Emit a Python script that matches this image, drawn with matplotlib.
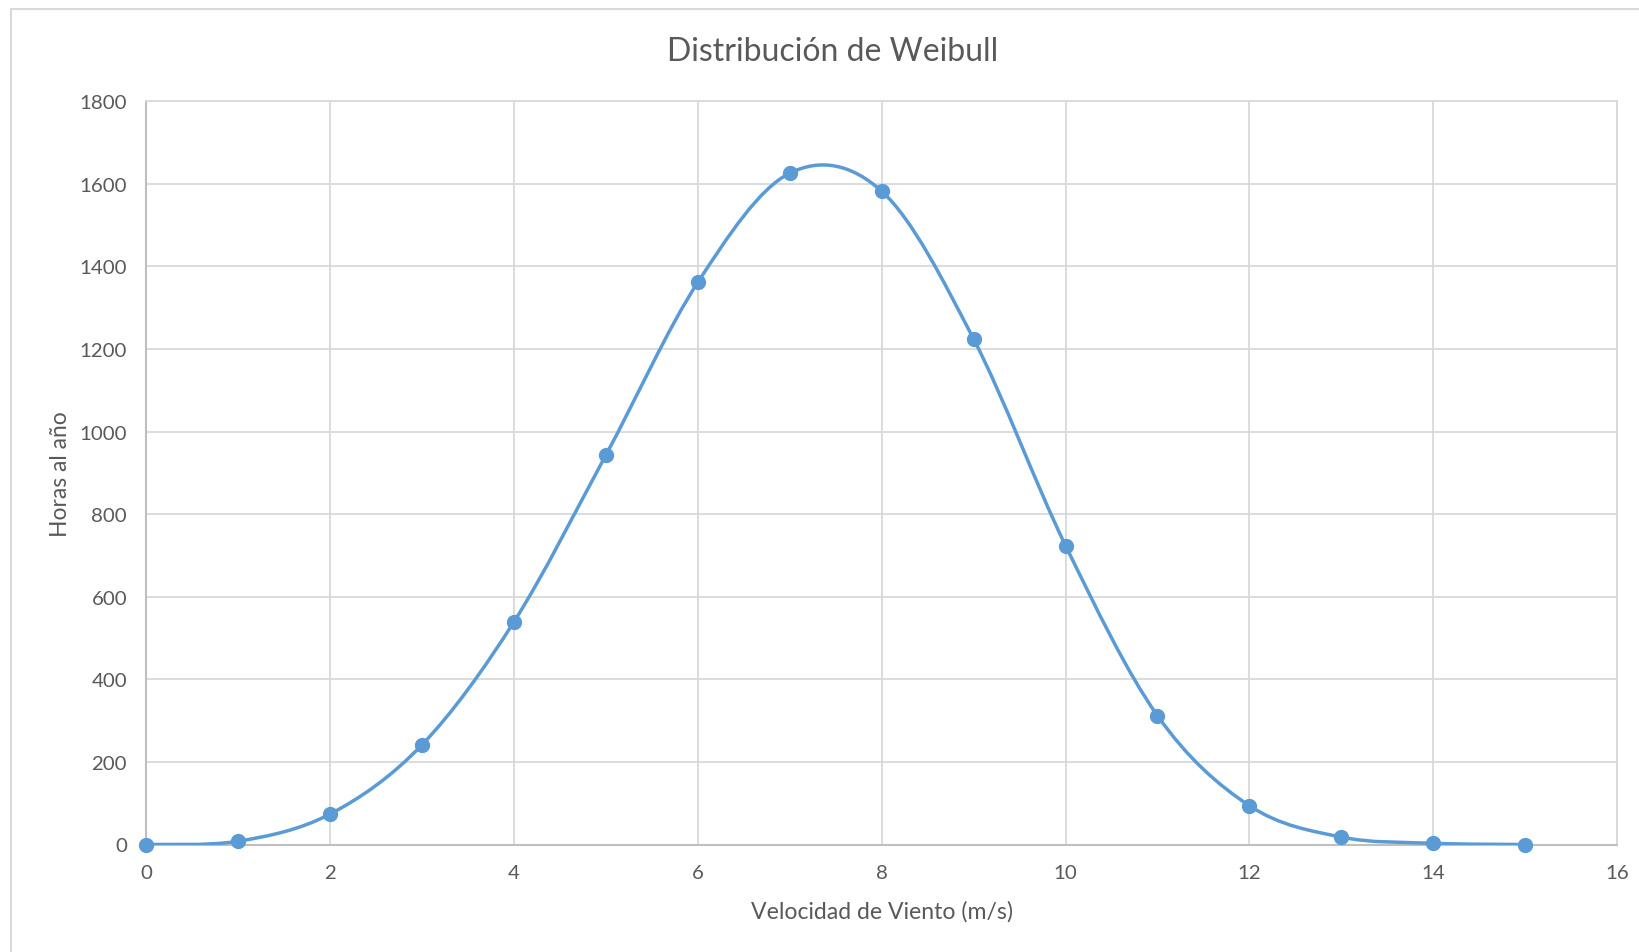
import matplotlib.pyplot as plt
from matplotlib.path import Path
from matplotlib.patches import PathPatch, Rectangle
import numpy as np

plt.rcParams['font.family'] = ['Lato', 'DejaVu Sans']

# data
velocidad = [0, 1, 2, 3, 4, 5, 6, 7, 8, 9, 10, 11, 12, 13, 14, 15]
horas = [0, 8, 74, 242, 540, 944, 1362, 1626, 1582, 1224, 724, 312, 94, 18, 3, 0]
x_ticks = [0, 2, 4, 6, 8, 10, 12, 14, 16]
y_ticks = [0, 200, 400, 600, 800, 1000, 1200, 1400, 1600, 1800]

azul = '#5B9BD5'
texto = '#595959'
rejilla = '#D9D9D9'

fig = plt.figure(figsize=(16.4, 9.53), dpi=100)
# chart area border (left and top edges visible in the crop)
fig.patches.append(Rectangle((11 / 1640, -0.1), 1.2, 1 - 10 / 953 + 0.1,
                             transform=fig.transFigure, fill=False,
                             edgecolor=rejilla, linewidth=1.5))

ax = fig.add_axes([146.5 / 1640, 1 - 845.5 / 953, (1617 - 146.5) / 1640, (845.5 - 102.3) / 953])

# smoothed line like Excel: cubic Bezier segments through the points
pts = np.column_stack([velocidad, horas]).astype(float)
ext = np.vstack([pts[0], pts, pts[-1]])
verts = [tuple(pts[0])]
codes = [Path.MOVETO]
for i in range(len(pts) - 1):
    p0, p1, p2, p3 = ext[i], ext[i + 1], ext[i + 2], ext[i + 3]
    c1 = p1 + (p2 - p0) / 6.0
    c2 = p2 - (p3 - p1) / 6.0
    verts += [tuple(c1), tuple(c2), tuple(p2)]
    codes += [Path.CURVE4, Path.CURVE4, Path.CURVE4]
ax.add_patch(PathPatch(Path(verts, codes), facecolor='none', edgecolor=azul,
                       linewidth=2.5, capstyle='round', zorder=3))
ax.plot(velocidad, horas, linestyle='none', marker='o', markersize=10,
        color=azul, zorder=4, clip_on=False)

ax.set_xlim(0, 16)
ax.set_ylim(0, 1800)
ax.set_xticks(x_ticks)
ax.set_yticks(y_ticks)
ax.grid(True, color=rejilla, linewidth=1.3)
ax.set_axisbelow(True)
ax.tick_params(length=0, labelsize=14.7, colors=texto, pad=14)
for s in ['left', 'bottom']:
    ax.spines[s].set_color('#BFBFBF')
    ax.spines[s].set_linewidth(1.5)
for s in ['top', 'right']:
    ax.spines[s].set_color(rejilla)
    ax.spines[s].set_linewidth(1.3)

ax.set_xlabel('Velocidad de Viento (m/s)', fontsize=16.6, color=texto, labelpad=14)
ax.set_ylabel('Horas al año', fontsize=16.4, color=texto, labelpad=6)
fig.text(833 / 1640, 1 - 52 / 953, 'Distribución de Weibull', fontsize=23,
         color=texto, ha='center', va='center')

fig.savefig('out.png', dpi=100)
